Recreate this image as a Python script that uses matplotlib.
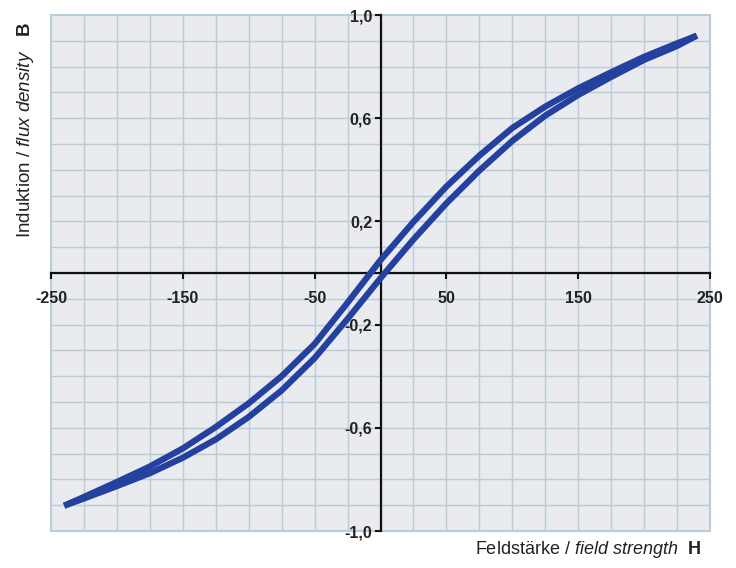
import matplotlib
matplotlib.use("Agg")
import matplotlib.pyplot as plt
from matplotlib.ticker import FixedLocator, FuncFormatter
from matplotlib.patches import Rectangle

plt.rcParams['font.family'] = ['Liberation Sans', 'DejaVu Sans']
plt.rcParams['mathtext.fontset'] = 'custom'
plt.rcParams['mathtext.rm'] = 'Liberation Sans'
plt.rcParams['mathtext.it'] = 'Liberation Sans:italic'
plt.rcParams['mathtext.bf'] = 'Liberation Sans:bold'

# Data: descending branch (upper) and ascending branch (lower)
h_desc = [240, 225, 200, 175, 150, 125, 100, 75, 50, 25, 0,
          -25, -50, -75, -100, -125, -150, -175, -200, -225, -240]
b_desc = [0.92, 0.89, 0.838, 0.778, 0.716, 0.645, 0.562, 0.455, 0.335, 0.198, 0.05,
          -0.115, -0.275, -0.40, -0.505, -0.597, -0.68, -0.75, -0.81, -0.868, -0.902]
h_asc = [-240, -225, -200, -175, -150, -125, -100, -75, -50, -25, 0,
         25, 50, 75, 100, 125, 150, 175, 200, 225, 240]
b_asc = [-0.902, -0.874, -0.826, -0.776, -0.716, -0.645, -0.558, -0.455, -0.33, -0.178, -0.02,
         0.13, 0.27, 0.397, 0.512, 0.61, 0.69, 0.76, 0.826, 0.88, 0.92]

x_ticks = [-250, -150, -50, 50, 150, 250]
y_ticks = [-1.0, -0.6, -0.2, 0.2, 0.6, 1.0]
x_grid = list(range(-225, 250, 25))
y_grid = [k / 10 for k in range(-9, 10)]

curve_color = '#2441a0'
grid_color = '#b9ccd8'
text_color = '#222222'

fig = plt.figure(figsize=(7.36, 5.68), dpi=100)
ax = fig.add_axes([51/736, 1 - 531/568, (710 - 51)/736, (531 - 15)/568])
ax.set_facecolor('#e9ebef')
ax.set_xlim(-250, 250)
ax.set_ylim(-1.0, 1.0)

for gx in x_grid:
    ax.axvline(gx, color=grid_color, lw=1.0, zorder=0.2)
for gy in y_grid:
    ax.axhline(gy, color=grid_color, lw=1.0, zorder=0.2)

ax.xaxis.set_major_locator(FixedLocator(x_ticks))
ax.yaxis.set_major_locator(FixedLocator(y_ticks))

for s in ['top', 'right']:
    ax.spines[s].set_visible(False)
ax.spines['left'].set_position(('data', 0))
ax.spines['bottom'].set_position(('data', 0))
for s in ['left', 'bottom']:
    ax.spines[s].set_color('#111111')
    ax.spines[s].set_linewidth(1.6)
    ax.spines[s].set_zorder(2)

ax.add_patch(Rectangle((0, 0), 1, 1, transform=ax.transAxes, fill=False,
                       edgecolor=grid_color, lw=1.5, zorder=1, clip_on=False))

ax.tick_params(which='major', direction='out', length=4, width=1.5, color='#111111',
               labelsize=11.5, labelcolor=text_color)
ax.tick_params(axis='x', pad=9)
ax.tick_params(axis='y', pad=2)
ax.xaxis.set_major_formatter(FuncFormatter(lambda v, p: f"{int(v)}"))
ax.yaxis.set_major_formatter(FuncFormatter(lambda v, p: f"{v:.1f}".replace('.', ',')))
for lbl in ax.get_xticklabels() + ax.get_yticklabels():
    lbl.set_fontweight('bold')

ax.plot(h_desc, b_desc, color=curve_color, lw=4.5, solid_capstyle='butt',
        solid_joinstyle='round', zorder=3, clip_on=False)
ax.plot(h_asc, b_asc, color=curve_color, lw=4.5, solid_capstyle='butt',
        solid_joinstyle='round', zorder=3, clip_on=False)

fig.text(26/736, 1 - 130/568, r"Induktion / $\mathit{flux\ density}$   $\mathbf{B}$",
         rotation=90, ha='center', va='center', fontsize=13.5, color=text_color)
fig.text(701/736, 1 - 549/568, r"Feldstärke / $\mathit{field\ strength}$  $\mathbf{H}$",
         ha='right', va='center', fontsize=13, color=text_color)

fig.savefig("out.png", dpi=100, facecolor='white')
